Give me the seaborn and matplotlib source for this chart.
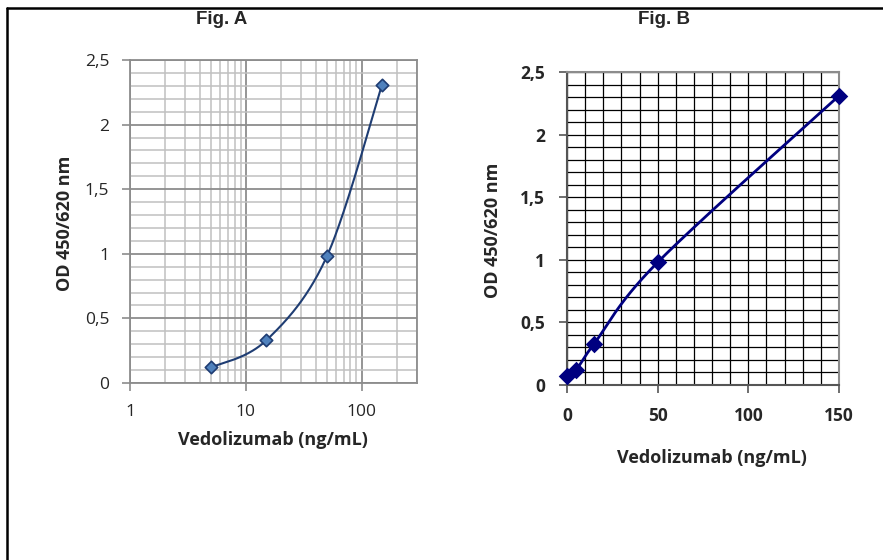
import numpy as np
import pandas as pd
import matplotlib
matplotlib.use("Agg")
import matplotlib.pyplot as plt
from matplotlib.ticker import FixedLocator, NullFormatter, LogLocator, MultipleLocator
from matplotlib.lines import Line2D
import seaborn as sns

# ---------------- data ----------------
conc_a = [5, 15, 50, 150]
od_a = [0.12, 0.33, 0.98, 2.31]

conc_b = [0, 5, 15, 50, 150]
od_b = [0.07, 0.12, 0.33, 0.98, 2.31]

y_ticks = [0, 0.5, 1, 1.5, 2, 2.5]
y_tick_labels = ["0", "0,5", "1", "1,5", "2", "2,5"]
xa_ticks = [1, 10, 100]
xa_tick_labels = ["1", "10", "100"]
xb_ticks = [0, 50, 100, 150]
xb_tick_labels = ["0", "50", "100", "150"]

title_a = "Fig. A"
title_b = "Fig. B"
xlabel = "Vedolizumab (ng/mL)"
ylabel = "OD 450/620 nm"

sns.set_style("white")
plt.rcParams["font.family"] = ["Open Sans", "DejaVu Sans"]


def smooth_curve(xs, ys, fx, fy, gx, gy, n=60):
    """Excel-like smoothed line (Bezier through points, tension 1/6),
    computed in display-proportional space and mapped back."""
    px = np.array([fx(v) for v in xs], float)
    py = np.array([fy(v) for v in ys], float)
    P = np.column_stack([px, py])
    out = []
    for i in range(len(P) - 1):
        p0 = P[i - 1] if i > 0 else P[i]
        p1 = P[i]
        p2 = P[i + 1]
        p3 = P[i + 2] if i + 2 < len(P) else P[i + 1]
        c1 = p1 + (p2 - p0) / 6.0
        c2 = p2 - (p3 - p1) / 6.0
        t = np.linspace(0, 1, n)[:, None]
        seg = ((1 - t) ** 3) * p1 + 3 * ((1 - t) ** 2) * t * c1 + 3 * (1 - t) * t ** 2 * c2 + t ** 3 * p2
        if i > 0:
            seg = seg[1:]
        out.append(seg)
    S = np.vstack(out)
    return np.array([gx(v) for v in S[:, 0]]), np.array([gy(v) for v in S[:, 1]])


W, H = 883, 560
fig = plt.figure(figsize=(W / 100, H / 100), dpi=100)


def ax_rect(l, t, r, b):
    return [l / W, 1 - b / H, (r - l) / W, (b - t) / H]


# ---------------- Fig A ----------------
axA = fig.add_axes(ax_rect(130, 60, 417, 383))
wA, hA = 287.0, 323.0
lmax = np.log10(300)
sxA, syA = smooth_curve(conc_a, od_a,
                        lambda v: np.log10(v) / lmax * wA, lambda v: v / 2.5 * hA,
                        lambda p: 10 ** (p / wA * lmax), lambda p: p / hA * 2.5)
dfA_line = pd.DataFrame({"x": sxA, "y": syA})
dfA = pd.DataFrame({"x": conc_a, "y": od_a})
axA.set_xscale("log")
sns.lineplot(data=dfA_line, x="x", y="y", ax=axA, color="#1f3d73", lw=1.5, sort=False, zorder=3)
sns.scatterplot(data=dfA, x="x", y="y", ax=axA, marker="D", s=40, color="#4f81bd",
                edgecolor="#1f3d73", linewidth=1.2, zorder=4)
axA.set_xlim(1, 300)
axA.set_ylim(0, 2.5)
axA.xaxis.set_major_locator(FixedLocator(xa_ticks))
axA.set_xticklabels(xa_tick_labels)
axA.xaxis.set_minor_locator(LogLocator(base=10, subs=np.arange(2, 10)))
axA.xaxis.set_minor_formatter(NullFormatter())
axA.yaxis.set_major_locator(FixedLocator(y_ticks))
axA.set_yticklabels(y_tick_labels)
axA.yaxis.set_minor_locator(MultipleLocator(0.1))
axA.grid(True, which="major", color="#8c8c8c", lw=1.3)
axA.grid(True, which="minor", color="#c0c0c0", lw=1.1)
axA.set_axisbelow(True)
axA.tick_params(which="major", direction="out", length=6, width=1.2, color="#8c8c8c",
                labelsize=12.5, pad=9, left=True, bottom=True)
axA.tick_params(which="minor", length=0)
for s in axA.spines.values():
    s.set_color("#8c8c8c")
    s.set_linewidth(1.3)
axA.set_xlabel(xlabel, fontsize=13, fontweight="bold")
axA.set_ylabel(ylabel, fontsize=13, fontweight="bold")
axA.xaxis.set_label_coords(0.498, -0.176)
axA.xaxis.label.set_va("center")
axA.yaxis.set_label_coords(-0.226, 0.495)
axA.yaxis.label.set_va("center")

# ---------------- Fig B ----------------
axB = fig.add_axes(ax_rect(567, 72, 839, 385))
wB, hB = 272.0, 313.0
sxB, syB = smooth_curve(conc_b, od_b,
                        lambda v: v / 150 * wB, lambda v: v / 2.5 * hB,
                        lambda p: p / wB * 150, lambda p: p / hB * 2.5)
dfB_line = pd.DataFrame({"x": sxB, "y": syB})
dfB = pd.DataFrame({"x": conc_b, "y": od_b})
sns.lineplot(data=dfB_line, x="x", y="y", ax=axB, color="#000080", lw=2, sort=False, zorder=3)
sns.scatterplot(data=dfB, x="x", y="y", ax=axB, marker="D", s=80, color="#000080",
                edgecolor="#000080", linewidth=0, zorder=4, clip_on=False)
axB.set_xlim(0, 150)
axB.set_ylim(0, 2.5)
axB.xaxis.set_major_locator(FixedLocator(xb_ticks))
axB.set_xticklabels(xb_tick_labels)
axB.xaxis.set_minor_locator(MultipleLocator(10))
axB.yaxis.set_major_locator(FixedLocator(y_ticks))
axB.set_yticklabels(y_tick_labels)
axB.yaxis.set_minor_locator(MultipleLocator(0.1))
axB.grid(True, which="both", color="black", lw=0.9)
axB.set_axisbelow(True)
axB.tick_params(which="major", direction="out", length=6, width=1.2, color="#555555",
                labelsize=12.5, pad=10, left=True, bottom=True)
axB.tick_params(which="minor", length=0)
for lab in axB.get_xticklabels() + axB.get_yticklabels():
    lab.set_fontweight("bold")
for k, s in axB.spines.items():
    s.set_color("#8c8c8c" if k in ("top", "right") else "#555555")
    s.set_linewidth(1.5)
axB.set_xlabel(xlabel, fontsize=13, fontweight="bold")
axB.set_ylabel(ylabel, fontsize=13, fontweight="bold")
axB.xaxis.set_label_coords(0.534, -0.233)
axB.xaxis.label.set_va("center")
axB.yaxis.set_label_coords(-0.271, 0.495)
axB.yaxis.label.set_va("center")

# ---------------- titles & frame ----------------
fig.text(222 / W, 1 - 20 / H, title_a, ha="center", va="center", fontsize=13.5,
         fontweight="bold", family="Liberation Sans")
fig.text(664 / W, 1 - 20 / H, title_b, ha="center", va="center", fontsize=13.5,
         fontweight="bold", family="Liberation Sans")
fig.add_artist(Line2D([7.5 / W, 7.5 / W], [0, 1 - 8 / H], color="black", lw=1.8,
                      transform=fig.transFigure))
fig.add_artist(Line2D([6.8 / W, 1], [1 - 8 / H, 1 - 8 / H], color="black", lw=1.8,
                      transform=fig.transFigure))

fig.savefig("out.png", dpi=100)
